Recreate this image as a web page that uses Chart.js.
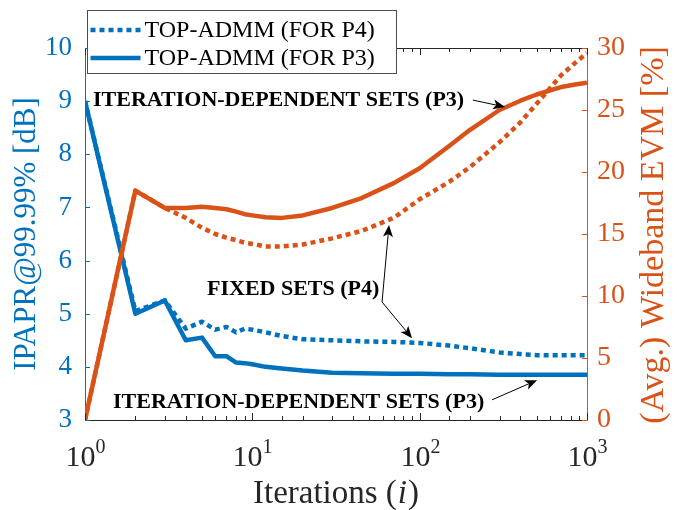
<!DOCTYPE html>
<html>
<head>
<meta charset="utf-8">
<script src="https://cdn.jsdelivr.net/npm/chart.js@4.4.0/dist/chart.umd.min.js"></script>
<style>
  html, body { margin: 0; padding: 0; background: #fff; }
  #wrap { width: 678px; height: 510px; position: relative; }
</style>
</head>
<body>
<div id="wrap"><canvas id="evmChart"></canvas></div>
<script>
// iterations (log axis) and the four curves
const iterations   = [1, 2, 3, 4, 5, 6, 7, 8, 9, 10, 12, 15, 20, 30, 45, 70, 100, 150, 200, 300, 400, 500, 700, 850, 1000];
const ipaprFixedP4 = [9.0, 5.05, 5.25, 4.72, 4.85, 4.7, 4.75, 4.65, 4.72, 4.7, 4.65, 4.58, 4.52, 4.5, 4.48, 4.47, 4.45, 4.4, 4.35, 4.27, 4.24, 4.22, 4.22, 4.22, 4.22];
const ipaprIterP3  = [9.0, 5.0, 5.25, 4.5, 4.55, 4.2, 4.2, 4.08, 4.07, 4.05, 4.0, 3.97, 3.93, 3.89, 3.88, 3.87, 3.87, 3.86, 3.86, 3.85, 3.85, 3.85, 3.85, 3.85, 3.85];
const evmFixedP4   = [0, 18.5, 17.1, 16.3, 15.5, 15.0, 14.7, 14.5, 14.3, 14.2, 14.0, 14.0, 14.15, 14.65, 15.25, 16.3, 17.8, 19.2, 20.4, 22.4, 24.0, 25.5, 27.8, 28.8, 29.6];
const evmIterP3    = [0, 18.5, 17.1, 17.1, 17.2, 17.1, 17.0, 16.8, 16.6, 16.5, 16.35, 16.3, 16.5, 17.1, 17.9, 19.1, 20.3, 22.1, 23.4, 25.0, 25.75, 26.25, 26.85, 27.05, 27.2];
const legendLabels = ['TOP-ADMM (FOR P4)', 'TOP-ADMM (FOR P3)'];

const BLUE = '#0072BD';
const ORANGE = '#D95319';
const AXIS = '#262626';
const SERIF = "'Liberation Serif', 'Times New Roman', serif";

// text callouts, placed in (iteration, IPAPR) coordinates
const notes = [
    { text: 'ITERATION-DEPENDENT SETS (P3)', x: 1.116, y: 9.02 },
    { text: 'FIXED SETS (P4)', x: 5.36, y: 5.45 },
    { text: 'ITERATION-DEPENDENT SETS (P3)', x: 1.47, y: 3.34 }
];
const pointers = [
    { from: [208, 9.02], to: [324, 8.89] },
    { from: [59.6, 5.22], to: [65.6, 6.67] },
    { from: [59.6, 5.22], to: [90, 4.54] },
    { from: [271, 3.38], to: [503, 3.75] }
];

function pairs(ys) {
    return iterations.map((x, i) => ({ x: x, y: ys[i] }));
}

function arrow(ctx, x1, y1, x2, y2) {
    const a = Math.atan2(y2 - y1, x2 - x1);
    const c = Math.cos(a), s = Math.sin(a);
    const L = 12, W = 5, back = 3;
    ctx.beginPath();
    ctx.moveTo(x1, y1);
    ctx.lineTo(x2 - c * (L - back), y2 - s * (L - back));
    ctx.stroke();
    ctx.beginPath();
    ctx.moveTo(x2, y2);
    ctx.lineTo(x2 - L * c + W * s, y2 - L * s - W * c);
    ctx.lineTo(x2 - (L - back) * c, y2 - (L - back) * s);
    ctx.lineTo(x2 - L * c - W * s, y2 - L * s + W * c);
    ctx.closePath();
    ctx.fill();
}

const decorations = {
    id: 'decorations',
    afterDraw(chart) {
        const ctx = chart.ctx;
        const area = chart.chartArea;
        const xs = chart.scales.x, ys = chart.scales.y, ys2 = chart.scales.y2;
        ctx.save();

        // top box edge
        ctx.strokeStyle = AXIS;
        ctx.lineWidth = 1;
        ctx.beginPath();
        ctx.moveTo(area.left, area.top + 0.5);
        ctx.lineTo(area.right, area.top + 0.5);
        ctx.stroke();

        // x ticks (inside, bottom and top) + 10^k labels
        xs.ticks.forEach(t => {
            const px = Math.round(xs.getPixelForValue(t.value)) + 0.5;
            const lg = Math.log10(t.value);
            const major = Math.abs(lg - Math.round(lg)) < 1e-9;
            const len = major ? 7 : 4;
            ctx.strokeStyle = AXIS;
            ctx.beginPath();
            ctx.moveTo(px, area.bottom); ctx.lineTo(px, area.bottom - len);
            ctx.moveTo(px, area.top); ctx.lineTo(px, area.top + len);
            ctx.stroke();
            if (major) {
                ctx.fillStyle = AXIS;
                ctx.textBaseline = 'alphabetic';
                ctx.textAlign = 'left';
                ctx.font = '30px ' + SERIF;
                const wb = ctx.measureText('10').width;
                ctx.font = '20px ' + SERIF;
                const exp = String(Math.round(lg));
                const we = ctx.measureText(exp).width;
                const x0 = px - (wb + we) / 2;
                ctx.font = '30px ' + SERIF;
                ctx.fillText('10', x0, area.bottom + 46);
                ctx.font = '20px ' + SERIF;
                ctx.fillText(exp, x0 + wb, area.bottom + 33);
            }
        });

        // y ticks (inside)
        ctx.strokeStyle = BLUE;
        ys.ticks.forEach(t => {
            const py = Math.round(ys.getPixelForValue(t.value)) + 0.5;
            ctx.beginPath(); ctx.moveTo(area.left, py); ctx.lineTo(area.left + 5, py); ctx.stroke();
        });
        ctx.strokeStyle = ORANGE;
        ys2.ticks.forEach(t => {
            const py = Math.round(ys2.getPixelForValue(t.value)) + 0.5;
            ctx.beginPath(); ctx.moveTo(area.right, py); ctx.lineTo(area.right - 5, py); ctx.stroke();
        });

        // right axis title, reading bottom to top
        ctx.save();
        ctx.translate(654, (area.top + area.bottom) / 2 + 1);
        ctx.rotate(-Math.PI / 2);
        ctx.font = '34px ' + SERIF;
        ctx.fillStyle = ORANGE;
        ctx.textAlign = 'center';
        ctx.textBaseline = 'middle';
        ctx.fillText('(Avg.) Wideband EVM [%]', 0, 0);
        ctx.restore();

        // x title with italic i
        ctx.fillStyle = AXIS;
        ctx.textBaseline = 'alphabetic';
        ctx.textAlign = 'left';
        const f1 = '33px ' + SERIF, f2 = 'italic 33px ' + SERIF;
        ctx.font = f1;
        const wa = ctx.measureText('Iterations (').width;
        const wc = ctx.measureText(')').width;
        ctx.font = f2;
        const wi = ctx.measureText('i').width + 2;
        let tx = (area.left + area.right) / 2 - (wa + wi + wc) / 2;
        const ty = area.bottom + 83;
        ctx.font = f1; ctx.fillText('Iterations (', tx, ty);
        ctx.font = f2; ctx.fillText('i', tx + wa + 1, ty);
        ctx.font = f1; ctx.fillText(')', tx + wa + wi, ty);

        // callouts
        ctx.font = 'bold 22px ' + SERIF;
        ctx.fillStyle = '#000';
        ctx.textBaseline = 'middle';
        notes.forEach(n => {
            ctx.fillText(n.text, xs.getPixelForValue(n.x), ys.getPixelForValue(n.y));
        });
        ctx.strokeStyle = '#000';
        ctx.lineWidth = 1;
        pointers.forEach(p => {
            arrow(ctx,
                xs.getPixelForValue(p.from[0]), ys.getPixelForValue(p.from[1]),
                xs.getPixelForValue(p.to[0]), ys.getPixelForValue(p.to[1]));
        });

        // legend box (blue series only)
        const bx = 87.5, by = 10.5, bw = 309, bh = 63;
        ctx.fillStyle = '#fff';
        ctx.fillRect(bx, by, bw, bh);
        ctx.strokeStyle = '#4d4d4d';
        ctx.lineWidth = 1;
        ctx.strokeRect(bx, by, bw, bh);
        const blue = chart.data.datasets.filter(d => d.label);
        blue.forEach((d, i) => {
            const ly = by + 19.5 + i * 28;
            ctx.strokeStyle = d.borderColor;
            ctx.lineWidth = d.borderWidth;
            ctx.setLineDash(d.borderDash || []);
            ctx.beginPath(); ctx.moveTo(bx + 3, ly); ctx.lineTo(bx + 53, ly); ctx.stroke();
            ctx.setLineDash([]);
            ctx.fillStyle = '#000';
            ctx.font = '24px ' + SERIF;
            ctx.textBaseline = 'middle';
            ctx.fillText(d.label, bx + 57, ly + 1);
        });
        ctx.restore();
    }
};

document.addEventListener("DOMContentLoaded", function () {
    const ctx = document.getElementById('evmChart').getContext('2d');
    Chart.defaults.font.family = SERIF;

    new Chart(ctx, {
        type: 'line',
        data: {
            datasets: [
                { data: pairs(evmIterP3), yAxisID: 'y2', borderColor: ORANGE, borderWidth: 4.5 },
                { data: pairs(evmFixedP4), yAxisID: 'y2', borderColor: ORANGE, borderWidth: 4.5, borderDash: [5, 4] },
                { label: legendLabels[0], data: pairs(ipaprFixedP4), yAxisID: 'y', borderColor: BLUE, borderWidth: 4.5, borderDash: [5, 4] },
                { label: legendLabels[1], data: pairs(ipaprIterP3), yAxisID: 'y', borderColor: BLUE, borderWidth: 4.5 }
            ]
        },
        options: {
            responsive: true,
            maintainAspectRatio: false,
            animation: false,
            elements: { point: { radius: 0 }, line: { tension: 0, borderCapStyle: 'butt', borderJoinStyle: 'round' } },
            layout: { padding: { top: 48, left: 0, right: 0, bottom: 0 } },
            plugins: { legend: { display: false }, tooltip: { enabled: false } },
            scales: {
                x: {
                    type: 'logarithmic',
                    min: 1,
                    max: 1000,
                    grid: { display: false, drawTicks: false },
                    border: { color: AXIS, width: 1 },
                    ticks: { display: false },
                    afterFit: s => { s.height = 90; }
                },
                y: {
                    position: 'left',
                    min: 3,
                    max: 10,
                    grid: { display: false, drawTicks: false },
                    border: { color: BLUE, width: 1 },
                    ticks: { stepSize: 1, color: BLUE, padding: 13, font: { size: 27 } },
                    title: { display: true, text: 'IPAPR@99.99% [dB]', color: BLUE, font: { size: 31 }, padding: { top: 8, bottom: 0 } },
                    afterFit: s => { s.width = 85; }
                },
                y2: {
                    position: 'right',
                    min: 0,
                    max: 30,
                    grid: { display: false, drawTicks: false },
                    border: { color: ORANGE, width: 1 },
                    ticks: { stepSize: 5, color: ORANGE, padding: 10, font: { size: 28 } },
                    afterFit: s => { s.width = 91; }
                }
            }
        },
        plugins: [decorations]
    });
});
</script>
</body>
</html>
